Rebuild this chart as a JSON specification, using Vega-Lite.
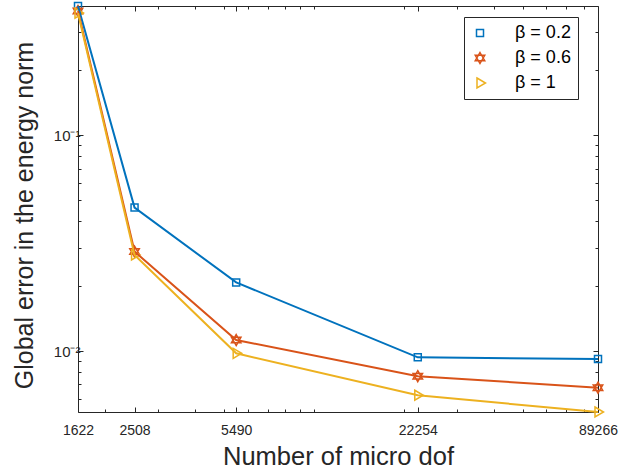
{
  "$schema": "https://vega.github.io/schema/vega-lite/v6.json",
  "width": 520,
  "height": 406,
  "autosize": {"type": "none"},
  "padding": {"left": 78, "top": 6, "right": 37, "bottom": 60},
  "background": "white",
  "config": {
    "view": {"stroke": null},
    "font": "Liberation Sans",
    "axis": {"domainColor": "#262626", "domainWidth": 1, "tickColor": "#262626", "tickWidth": 1, "labelColor": "#262626", "titleColor": "#262626", "grid": false, "labelFont": "Liberation Sans", "titleFont": "Liberation Sans"},
    "legend": {
      "orient": "none", "legendX": 386, "legendY": 11, "title": null,
      "labelFontSize": 18, "labelFont": "Liberation Sans", "labelColor": "black",
      "symbolSize": 100, "symbolStrokeWidth": 1.5, "labelOffset": 26, "rowPadding": 7,
      "padding": 7, "strokeColor": "#262626", "fillColor": "white"
    }
  },
  "data": {
    "values": [
      {"dof": 1622, "err": 0.397, "beta": "β = 0.2"},
      {"dof": 2508, "err": 0.0462, "beta": "β = 0.2"},
      {"dof": 5490, "err": 0.0208, "beta": "β = 0.2"},
      {"dof": 22254, "err": 0.00935, "beta": "β = 0.2"},
      {"dof": 89266, "err": 0.00918, "beta": "β = 0.2"},
      {"dof": 1622, "err": 0.376, "beta": "β = 0.6"},
      {"dof": 2508, "err": 0.0289, "beta": "β = 0.6"},
      {"dof": 5490, "err": 0.01125, "beta": "β = 0.6"},
      {"dof": 22254, "err": 0.00765, "beta": "β = 0.6"},
      {"dof": 89266, "err": 0.00677, "beta": "β = 0.6"},
      {"dof": 1622, "err": 0.368, "beta": "β = 1"},
      {"dof": 2508, "err": 0.0279, "beta": "β = 1"},
      {"dof": 5490, "err": 0.00976, "beta": "β = 1"},
      {"dof": 22254, "err": 0.00624, "beta": "β = 1"},
      {"dof": 89266, "err": 0.00522, "beta": "β = 1"}
    ]
  },
  "layer": [
    {
      "mark": {"type": "point", "filled": false, "size": 100, "strokeWidth": 1.5, "opacity": 1},
      "encoding": {
        "x": {
          "field": "dof", "type": "quantitative",
          "scale": {"type": "log", "domain": [1622, 89266], "nice": false},
          "axis": {
            "orient": "bottom",
            "values": [1622, 2000, 2508, 3000, 4000, 5000, 5490, 6000, 7000, 8000, 9000, 10000, 20000, 22254, 30000, 40000, 50000, 60000, 70000, 80000, 89266],
            "labelExpr": "indexof([1622, 2508, 5490, 22254, 89266], datum.value) >= 0 ? format(datum.value, 'd') : ''",
            "tickSize": {"condition": {"test": "indexof([1622, 2508, 5490, 22254, 89266], datum.value) >= 0", "value": -5}, "value": -3},
            "labelFlush": false, "labelOverlap": false,
            "labelFontSize": 14, "labelPadding": 16,
            "title": "Number of micro dof", "titleFontSize": 25.5, "titleFontWeight": "normal", "titlePadding": 5
          }
        },
        "y": {
          "field": "err", "type": "quantitative",
          "scale": {"type": "log", "domain": [0.00522, 0.397], "nice": false},
          "axis": {
            "orient": "left",
            "values": [0.006, 0.007, 0.008, 0.009, 0.01, 0.02, 0.03, 0.04, 0.05, 0.06, 0.07, 0.08, 0.09, 0.1, 0.2, 0.3],
            "labelExpr": "datum.value == 0.1 ? '10⁻¹' : datum.value == 0.01 ? '10⁻²' : ''",
            "tickSize": {"condition": {"test": "datum.value == 0.1 || datum.value == 0.01", "value": -5}, "value": -3},
            "labelOverlap": false, "labelFlush": false,
            "labelFontSize": 15, "labelPadding": 3,
            "title": "Global error in the energy norm", "titleFontSize": 25, "titleFontWeight": "normal", "titlePadding": 16, "titleY": 209
          }
        },
        "color": {
          "field": "beta", "type": "nominal",
          "scale": {"domain": ["β = 0.2", "β = 0.6", "β = 1"], "range": ["#0072BD", "#D95319", "#EDB120"]}
        },
        "shape": {
          "field": "beta", "type": "nominal",
          "scale": {"domain": ["β = 0.2", "β = 0.6", "β = 1"], "range": ["M-0.7,-0.7H0.7V0.7H-0.7Z", "M0,-1.1L0.95,0.55L-0.95,0.55ZM0,1.1L0.95,-0.55L-0.95,-0.55Z", "M-0.6,-1L1.1,0L-0.6,1Z"]}
        }
      }
    },
    {
      "mark": {"type": "line", "strokeWidth": 2},
      "encoding": {
        "x": {
          "field": "dof", "type": "quantitative",
          "axis": {
            "orient": "top",
            "values": [1622, 2000, 2508, 3000, 4000, 5000, 5490, 6000, 7000, 8000, 9000, 10000, 20000, 22254, 30000, 40000, 50000, 60000, 70000, 80000, 89266],
            "labels": false, "title": null,
            "tickSize": {"condition": {"test": "indexof([1622, 2508, 5490, 22254, 89266], datum.value) >= 0", "value": -5}, "value": -3}
          }
        },
        "y": {
          "field": "err", "type": "quantitative",
          "axis": {
            "orient": "right",
            "values": [0.006, 0.007, 0.008, 0.009, 0.01, 0.02, 0.03, 0.04, 0.05, 0.06, 0.07, 0.08, 0.09, 0.1, 0.2, 0.3],
            "labels": false, "title": null,
            "tickSize": {"condition": {"test": "datum.value == 0.1 || datum.value == 0.01", "value": -5}, "value": -3}
          }
        },
        "color": {"field": "beta", "type": "nominal"}
      }
    }
  ],
  "resolve": {"axis": {"x": "independent", "y": "independent"}}
}
